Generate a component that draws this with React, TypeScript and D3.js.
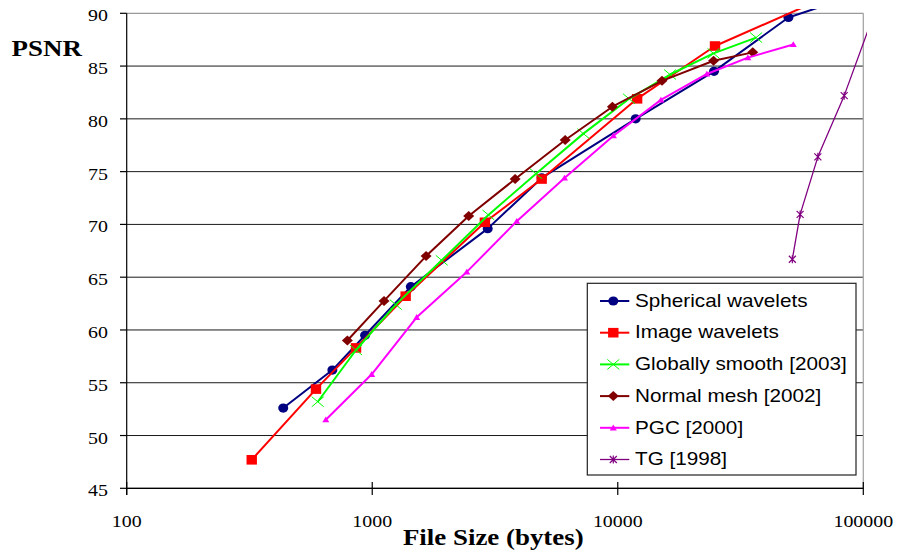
import React, { useEffect, useRef } from 'react';
import * as d3 from 'd3';

// file sizes (bytes) and PSNR for each method
const sphericalSize = [434, 688, 935, 1436, 2953, 4900, 11830, 24660, 49550, 90000];
const sphericalPsnr = [52.6, 56.2, 59.5, 64.1, 69.6, 74.4, 80.0, 84.5, 89.6, 91.6];

const imageSize = [323, 590, 859, 1368, 2876, 4898, 11990, 24890, 70000];
const imagePsnr = [47.7, 54.4, 58.3, 63.2, 70.2, 74.3, 81.9, 86.9, 91.5];

const smoothSize = [600, 859, 1247, 1919, 2972, 4645, 7244, 11120, 16330, 24550, 36590];
const smoothPsnr = [53.2, 58.1, 62.4, 66.6, 70.9, 74.8, 78.6, 81.9, 84.2, 86.2, 87.7];

const normalSize = [792, 1117, 1657, 2471, 3819, 6107, 9510, 15140, 24550, 35460];
const normalPsnr = [59.0, 62.75, 67.0, 70.8, 74.3, 78.0, 81.15, 83.6, 85.5, 86.3];

const pgcSize = [647, 995, 1517, 2427, 3879, 6069, 9600, 14990, 23070, 33880, 51880];
const pgcPsnr = [51.5, 55.8, 61.2, 65.5, 70.3, 74.4, 78.4, 81.8, 84.25, 85.8, 87.05];

const tgSize = [51400, 55300, 65300, 83600, 108000];
const tgPsnr = [66.7, 70.95, 76.4, 82.2, 89.3];

const yTicks = [45, 50, 55, 60, 65, 70, 75, 80, 85, 90];
const xTicks = [100, 1000, 10000, 100000];

const series = [
  { name: "Spherical wavelets", xs: sphericalSize, ys: sphericalPsnr, color: "#000080", marker: "circle", lw: 2 },
  { name: "Image wavelets", xs: imageSize, ys: imagePsnr, color: "#ff0000", marker: "square", lw: 2 },
  { name: "Globally smooth [2003]", xs: smoothSize, ys: smoothPsnr, color: "#00ff00", marker: "x", lw: 2 },
  { name: "Normal mesh [2002]", xs: normalSize, ys: normalPsnr, color: "#800000", marker: "diamond", lw: 2 },
  { name: "PGC [2000]", xs: pgcSize, ys: pgcPsnr, color: "#ff00ff", marker: "triangle", lw: 2 },
  { name: "TG [1998]", xs: tgSize, ys: tgPsnr, color: "#800080", marker: "star", lw: 1.3 },
];

const SX = 1.17; // the picture is stretched sideways a little
const serif = "'Liberation Serif', 'Times New Roman', serif";
const sans = "'Liberation Sans', Arial, sans-serif";

function drawMarker(g, kind, cx, cy, color) {
  if (kind === "circle") {
    g.append("ellipse").attr("cx", cx).attr("cy", cy).attr("rx", 5).attr("ry", 4.6).attr("fill", color);
  } else if (kind === "square") {
    g.append("rect").attr("x", cx - 5.2).attr("y", cy - 4.8).attr("width", 10.4).attr("height", 9.6).attr("fill", color);
  } else if (kind === "diamond") {
    g.append("path")
      .attr("d", `M${cx},${cy - 5}L${cx + 5.5},${cy}L${cx},${cy + 5}L${cx - 5.5},${cy}Z`)
      .attr("fill", color);
  } else if (kind === "x") {
    g.append("path")
      .attr("d", `M${cx - 6},${cy - 5}L${cx + 6},${cy + 5}M${cx - 6},${cy + 5}L${cx + 6},${cy - 5}`)
      .attr("stroke", color).attr("stroke-width", 1).attr("fill", "none");
  } else if (kind === "triangle") {
    g.append("path")
      .attr("d", `M${cx},${cy - 3.2}L${cx + 3.5},${cy + 2.6}L${cx - 3.5},${cy + 2.6}Z`)
      .attr("fill", color);
  } else if (kind === "star") {
    g.append("path")
      .attr("d", `M${cx - 3.5},${cy - 3.5}L${cx + 3.5},${cy + 3.5}M${cx - 3.5},${cy + 3.5}L${cx + 3.5},${cy - 3.5}M${cx},${cy - 4}L${cx},${cy + 4}`)
      .attr("stroke", color).attr("stroke-width", 1.2).attr("fill", "none");
  }
}

function addText(g, x, y, str, opts) {
  return g.append("text")
    .attr("transform", `translate(${x},${y}) scale(${SX},1)`)
    .attr("text-anchor", opts.anchor || "start")
    .attr("font-family", opts.family)
    .attr("font-size", opts.size)
    .attr("font-weight", opts.weight || "normal")
    .attr("fill", "#000")
    .text(str);
}

export default function App() {
  const svgRef = useRef(null);

  useEffect(() => {
    const svg = d3.select(svgRef.current);
    svg.selectAll("*").remove();

    const left = 126.7, right = 863.3, top = 13.3, bottom = 488.3;
    const x = d3.scaleLog().domain([100, 100000]).range([left, right]);
    const y = d3.scaleLinear().domain([45, 90]).range([bottom, top]);

    svg.append("defs").append("clipPath").attr("id", "plotclip")
      .append("rect").attr("x", left).attr("y", 9).attr("width", 867 - left).attr("height", 500 - 9);

    // gridlines
    const grid = svg.append("g");
    yTicks.forEach(v => {
      grid.append("line")
        .attr("x1", left).attr("x2", right)
        .attr("y1", y(v)).attr("y2", y(v))
        .attr("stroke", v === 90 ? "#808080" : "#1a1a1a").attr("stroke-width", 1);
    });
    grid.append("line")
      .attr("x1", right).attr("x2", right).attr("y1", top).attr("y2", bottom)
      .attr("stroke", "#a6a6a6").attr("stroke-width", 1.3);

    // axes
    const axes = svg.append("g").attr("stroke", "#000").attr("stroke-width", 1.2);
    axes.append("line").attr("x1", left).attr("x2", left).attr("y1", top).attr("y2", 495);
    axes.append("line").attr("x1", left).attr("x2", right).attr("y1", bottom).attr("y2", bottom);
    yTicks.forEach(v => {
      axes.append("line").attr("x1", 120).attr("x2", left).attr("y1", y(v)).attr("y2", y(v));
    });
    xTicks.forEach(v => {
      axes.append("line").attr("x1", x(v)).attr("x2", x(v)).attr("y1", 482).attr("y2", 495);
    });

    const labels = svg.append("g");
    yTicks.forEach(v => {
      addText(labels, 108, y(v) + 8, String(v), { family: serif, size: 17, anchor: "end" });
    });
    xTicks.forEach(v => {
      addText(labels, x(v), 526.5, String(v), { family: serif, size: 17, anchor: "middle" });
    });
    addText(labels, 46.7, 56, "PSNR", { family: serif, size: 23, weight: "bold", anchor: "middle" });
    addText(labels, 493.3, 545, "File Size (bytes)", { family: serif, size: 23, weight: "bold", anchor: "middle" });

    // series
    const plot = svg.append("g").attr("clip-path", "url(#plotclip)");
    series.forEach(s => {
      const pts = s.xs.map((v, i) => [x(v), y(s.ys[i])]);
      plot.append("path")
        .attr("d", d3.line()(pts))
        .attr("fill", "none")
        .attr("stroke", s.color)
        .attr("stroke-width", s.lw)
        .attr("stroke-linejoin", "round");
      const mg = plot.append("g");
      pts.forEach(p => drawMarker(mg, s.marker, p[0], p[1], s.color));
    });

    // legend
    const lg = svg.append("g");
    lg.append("rect")
      .attr("x", 587.3).attr("y", 283.3).attr("width", 856 - 587.3).attr("height", 475 - 283.3)
      .attr("fill", "#fff").attr("stroke", "#222").attr("stroke-width", 1.2);
    series.forEach((s, i) => {
      const cy = 301 + i * 31.7;
      lg.append("line")
        .attr("x1", 600).attr("x2", 629.3).attr("y1", cy).attr("y2", cy)
        .attr("stroke", s.color).attr("stroke-width", s.lw);
      drawMarker(lg, s.marker, 613.3, cy, s.color);
      addText(lg, 635, cy + 5.7, s.name, { family: sans, size: 17.7 });
    });
  }, []);

  return (
    <svg ref={svgRef} width={899} height={556}
      style={{ position: "absolute", left: 0, top: 0, background: "#fff" }} />
  );
}
